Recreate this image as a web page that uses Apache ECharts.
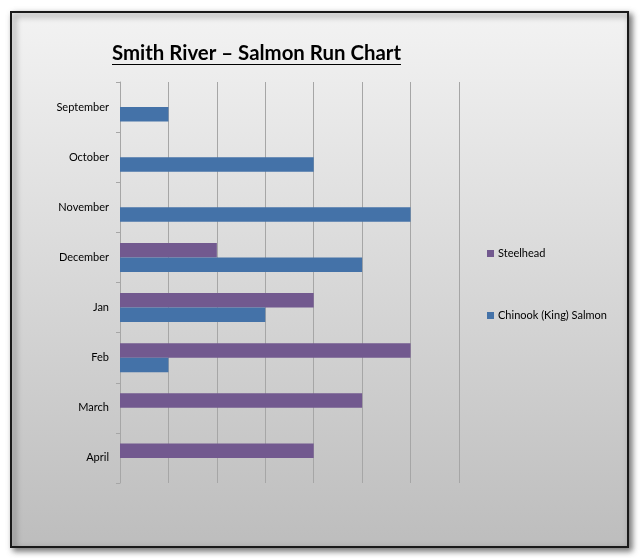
<!DOCTYPE html>
<html><head><meta charset="utf-8">
<script src="https://cdn.jsdelivr.net/npm/echarts@6/dist/echarts.min.js"></script>
<style>html,body{margin:0;padding:0;background:#fff}#c{width:640px;height:558px}</style>
</head><body><div id="c"></div>
<script>
const months = ['September','October','November','December','Jan','Feb','March','April'];
const steelhead = [null, null, null, 2, 4, 6, 5, 4];
const chinook = [1, 4, 6, 5, 3, 1, null, null];
const seriesNames = ['Steelhead', 'Chinook (King) Salmon'];
const titleText = 'Smith River \u2013 Salmon Run Chart';

const chart = echarts.init(document.getElementById('c'));
const font = 'Lato, "Open Sans", sans-serif';
chart.setOption({
  animation: false,
  backgroundColor: '#ffffff',
  graphic: [
    { type: 'rect', z: -10, shape: { x: 11, y: 12, width: 617, height: 535 },
      style: { fill: new echarts.graphic.LinearGradient(0,0,0,1,[{offset:0,color:'#f3f3f3'},{offset:1,color:'#bdbdbd'}]),
               stroke: '#1a1a1a', lineWidth: 2, shadowColor: 'rgba(0,0,0,0.55)', shadowBlur: 6, shadowOffsetX: 3, shadowOffsetY: 3 } },
    { type: 'line', z: 10, shape: { x1: 112, y1: 64.5, x2: 401, y2: 64.5 }, style: { stroke: '#000', lineWidth: 1 } }
  ],
  title: { text: titleText, left: 112, top: 43, padding: 0,
    textStyle: { fontFamily: font, fontSize: 20.4, fontWeight: 'bold', color: '#000' } },
  legend: { orient: 'vertical', left: 482, top: 243, itemGap: 51, itemWidth: 7, itemHeight: 7,
    data: seriesNames, icon: 'rect',
    textStyle: { fontFamily: font, fontSize: 11, color: '#000', padding: [0,0,0,-1] } },
  grid: { left: 120, top: 82, right: 181, bottom: 75, containLabel: false },
  xAxis: { type: 'value', min: 0, max: 7, interval: 1,
    axisLine: { show: false }, axisTick: { show: false }, axisLabel: { show: false },
    splitLine: { lineStyle: { color: '#a6a6a6', width: 1 } } },
  yAxis: { type: 'category', data: months, inverse: true,
    axisLine: { lineStyle: { color: '#a6a6a6' } },
    axisTick: { show: true, length: 4, lineStyle: { color: '#a6a6a6' } },
    axisLabel: { fontFamily: font, fontSize: 11, color: '#000', margin: 11 } },
  series: [
    { name: seriesNames[0], type: 'bar', data: steelhead, barGap: '0%', barCategoryGap: '42%',
      itemStyle: { color: '#72598f' } },
    { name: seriesNames[1], type: 'bar', data: chinook, barGap: '0%', barCategoryGap: '42%',
      itemStyle: { color: '#4472a8' } }
  ]
});
</script></body></html>
